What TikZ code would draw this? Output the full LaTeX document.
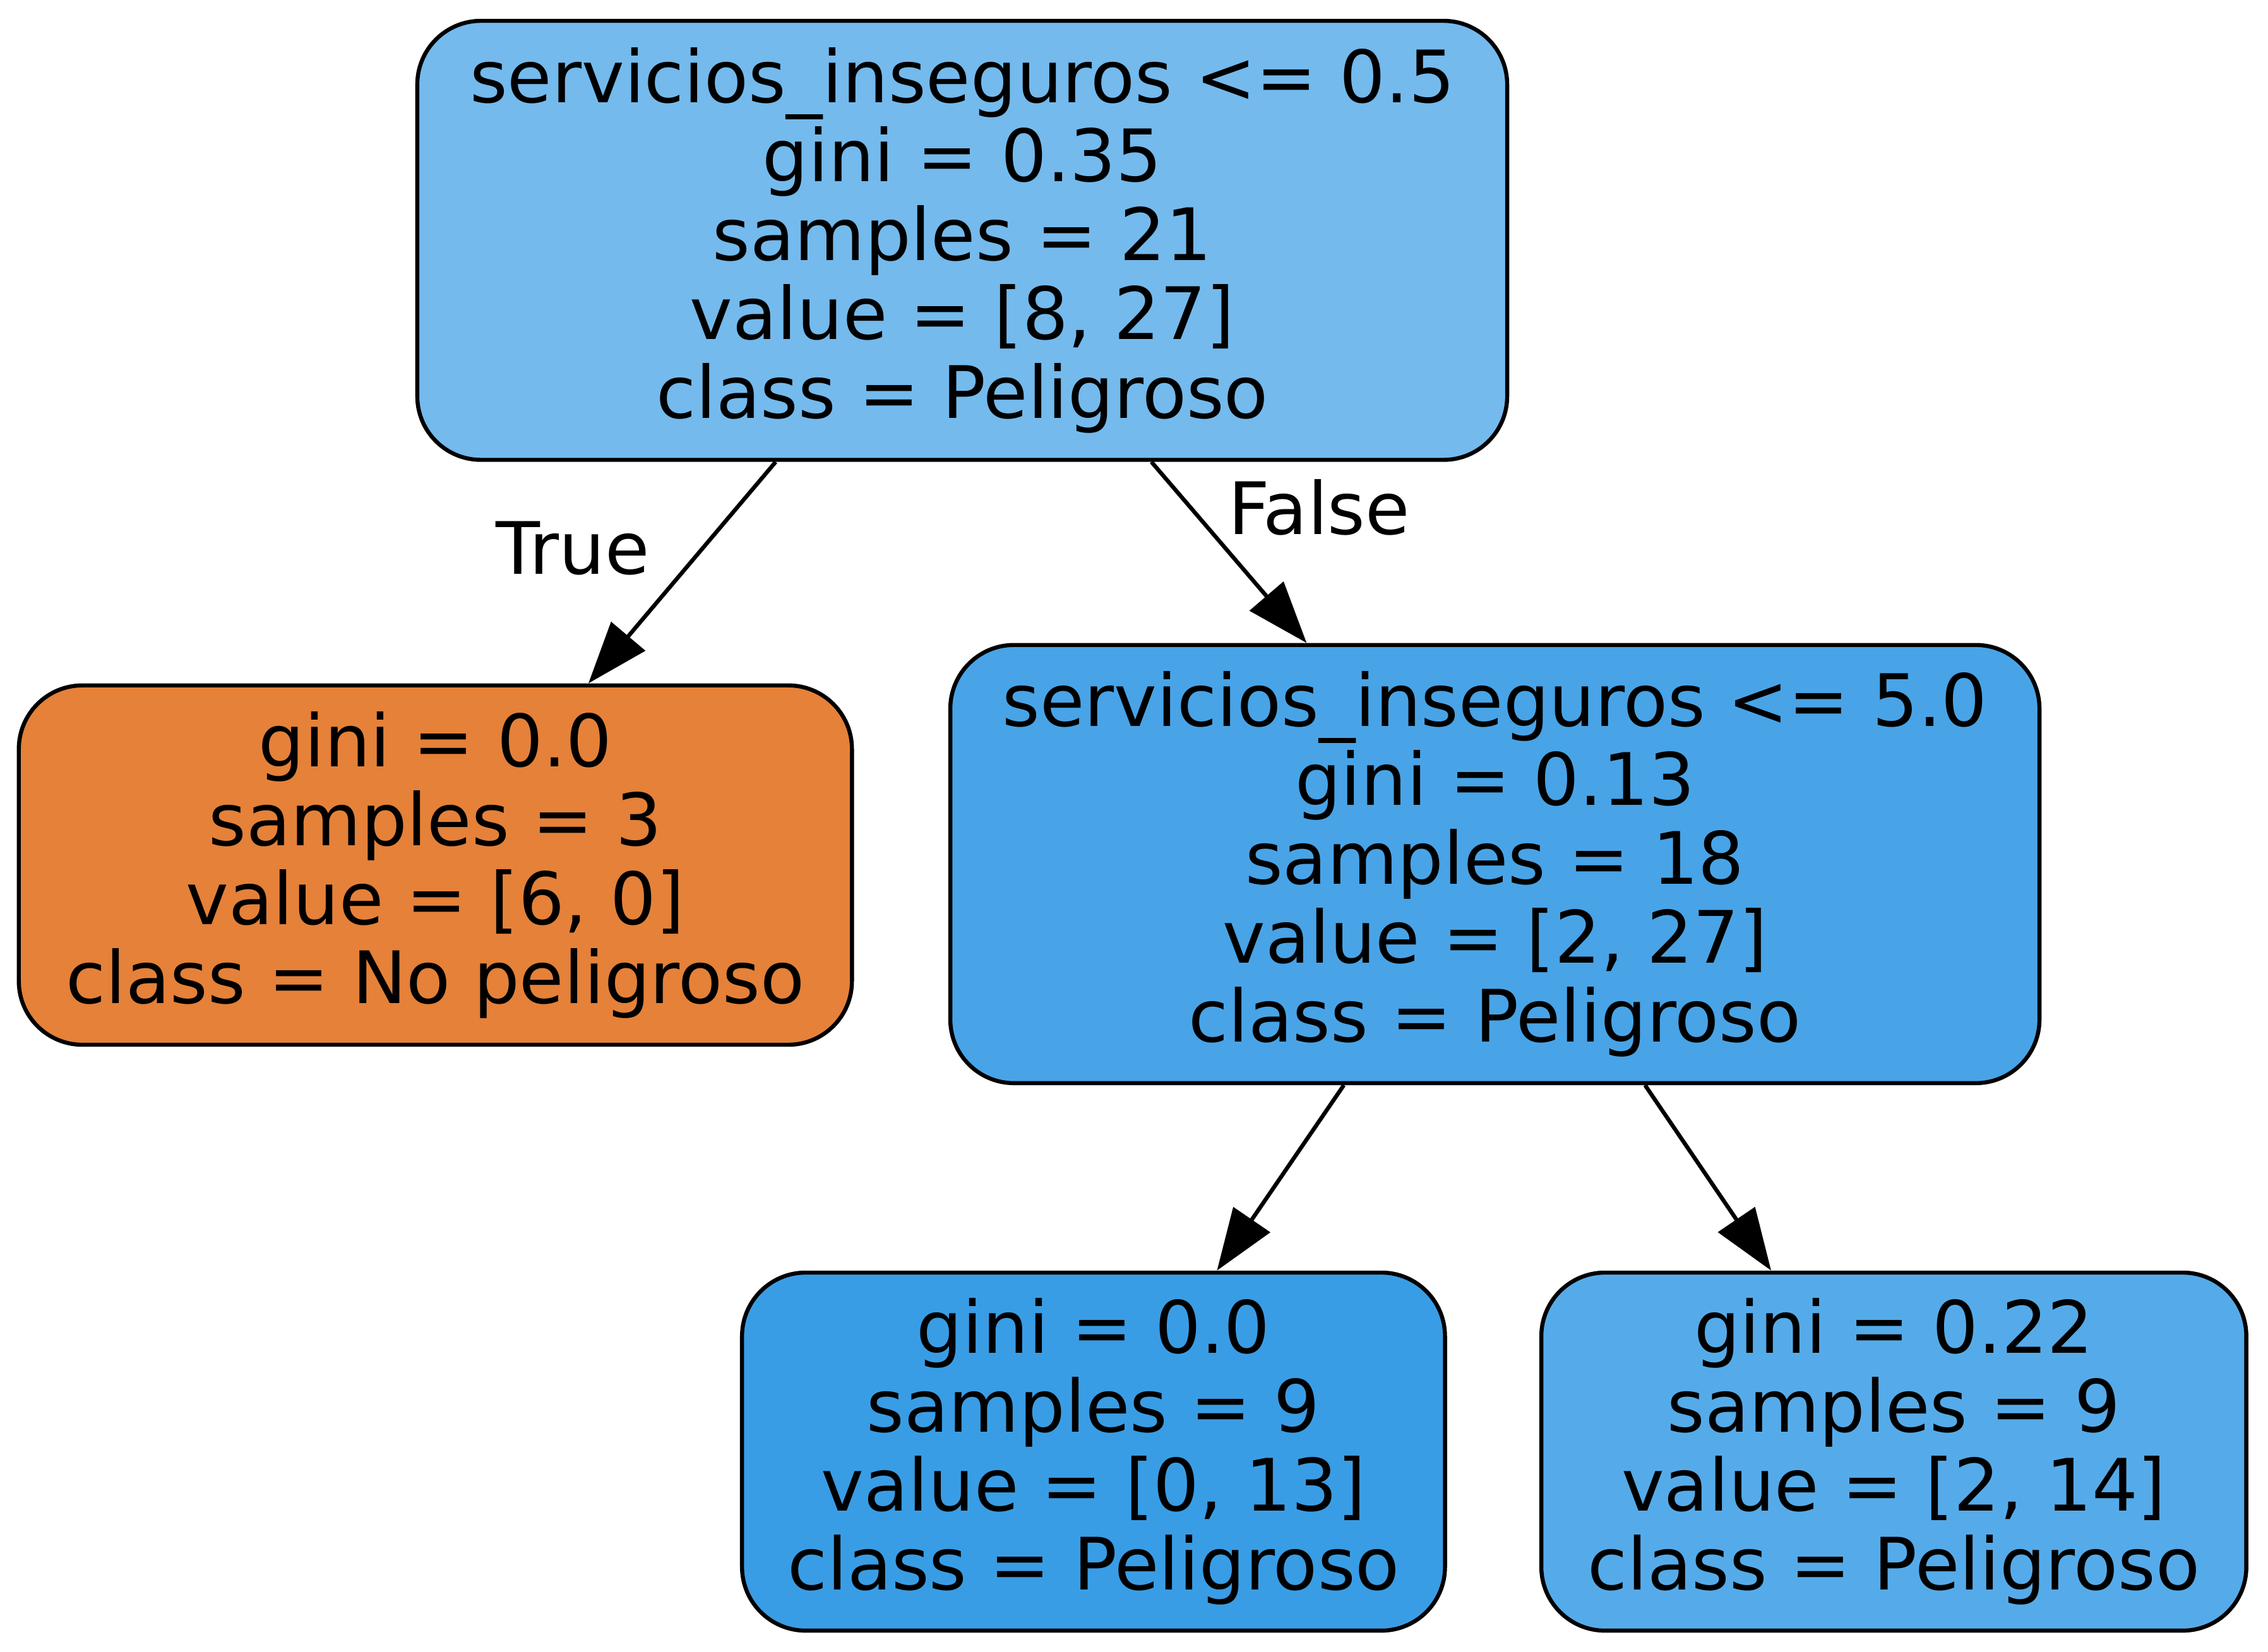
\documentclass[tikz,border=0pt]{standalone}
\usepackage{fontspec}
\setmainfont{DejaVu Sans}
\usetikzlibrary{arrows.meta}

% node fill colours of the decision tree
\definecolor{rootblue}{HTML}{74BAED}
\definecolor{midblue}{HTML}{48A4E7}
\definecolor{pureblue}{HTML}{399DE5}
\definecolor{softblue}{HTML}{55ABE9}
\definecolor{leaforange}{HTML}{E58139}

\tikzset{
  treenode/.style={draw=black, line width=1.4pt, rounded corners=22pt,
    align=center, inner sep=0pt,
    font=\fontsize{25}{27.3}\selectfont},
  edge/.style={draw=black, line width=1.4pt,
    -{Triangle[length=21.35pt, width=15.2pt]}},
  edgelabel/.style={inner sep=0pt, font=\fontsize{25}{27.3}\selectfont}
}

\begin{document}
\begin{tikzpicture}[x=0.5pt, y=-0.5pt]
  \useasboundingbox (0,0) rectangle (1568,1142);

  \node[treenode, fill=rootblue, minimum width=376.75pt, minimum height=151.8pt]
    (root) at (665.25,166.2)
    {servicios\_inseguros <= 0.5\\gini = 0.35\\samples = 21\\value = [8, 27]\\class = Peligroso};

  \node[treenode, fill=leaforange, minimum width=288pt, minimum height=124.25pt]
    (left) at (301,598.2)
    {gini = 0.0\\samples = 3\\value = [6, 0]\\class = No peligroso};

  \node[treenode, fill=midblue, minimum width=376.5pt, minimum height=151.5pt]
    (mid) at (1033.5,597.5)
    {servicios\_inseguros <= 5.0\\gini = 0.13\\samples = 18\\value = [2, 27]\\class = Peligroso};

  \node[treenode, fill=pureblue, minimum width=243pt, minimum height=123.8pt]
    (ll) at (756,1003.8)
    {gini = 0.0\\samples = 9\\value = [0, 13]\\class = Peligroso};

  \node[treenode, fill=softblue, minimum width=243.7pt, minimum height=123.8pt]
    (lr) at (1309.3,1003.8)
    {gini = 0.22\\samples = 9\\value = [2, 14]\\class = Peligroso};

  \draw[edge] (root) -- (left);
  \draw[edge] (root) -- (mid);
  \draw[edge] (mid) -- (ll);
  \draw[edge] (mid) -- (lr);

  \node[edgelabel] (truelbl) at (396,379) {True};
  \node[edgelabel] (falselbl) at (912,351) {False};
\end{tikzpicture}
\end{document}
